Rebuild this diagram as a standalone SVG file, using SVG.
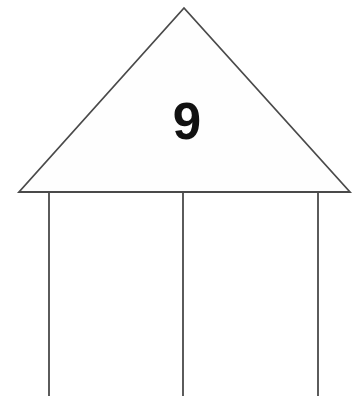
<svg xmlns="http://www.w3.org/2000/svg" width="357" height="396" viewBox="0 0 357 396">
<style>
.ln{stroke:#4a4a4a;stroke-width:1.8;fill:none}
.lbl{font-family:"Liberation Sans",Arial,sans-serif;font-weight:bold;font-size:51px;fill:#111;text-anchor:middle}
</style>
<rect width="357" height="396" fill="#fff"/>
<g id="roof">
<polygon class="ln" points="184,8 19,192 350,192" style="fill:#fefefe"/>
<text class="lbl" x="187" y="139">9</text>
</g>
<g id="connectors">
<line class="ln" x1="49" y1="193" x2="49" y2="396"/>
<line class="ln" x1="183" y1="193" x2="183" y2="396"/>
<line class="ln" x1="318" y1="193" x2="318" y2="396"/>
</g>
</svg>
